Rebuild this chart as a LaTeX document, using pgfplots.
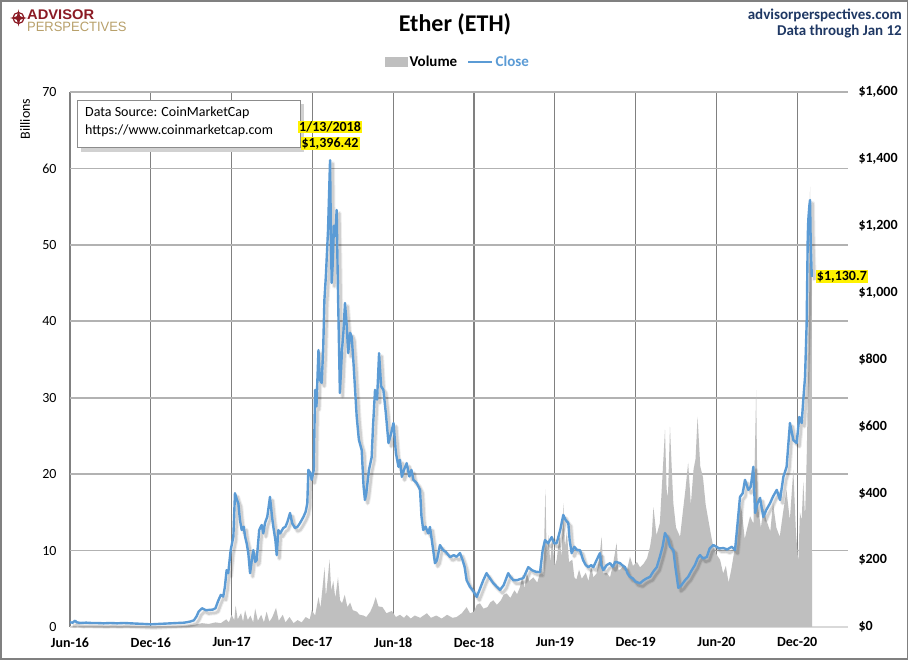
\documentclass[border=0pt]{standalone}
\usepackage{pgfplots}
\pgfplotsset{compat=1.18}
\usepackage{pgfplotstable}
\usepackage{fontspec}
\setmainfont{Carlito}
\newfontfamily\arialf{Liberation Sans}
\definecolor{volgray}{RGB}{191,191,191}
\definecolor{lineblue}{RGB}{91,155,213}
\definecolor{navy}{RGB}{31,56,100}
\definecolor{logored}{RGB}{139,26,36}
\definecolor{logotan}{RGB}{184,160,106}

\pgfplotstableread{
m v
0 0.05
8.0 0.05
8.8 0.2
9.3 0.3
9.8 0.5
10.3 0.4
10.8 0.6
11.2 0.5
11.6 1.0
11.8 0.6
12.0 1.6
12.2 0.9
12.3 2.8
12.45 1.0
12.7 1.8
12.85 0.7
13.0 2.2
13.2 0.9
13.4 1.5
13.6 0.6
13.75 2.4
13.95 0.8
14.2 1.6
14.4 0.6
14.6 2.0
14.8 0.7
15.0 1.2
15.3 2.5
15.5 0.8
15.8 1.6
16.0 0.6
16.3 1.3
16.6 0.5
16.9 0.9
17.2 0.6
17.5 1.3
17.8 1.0
17.95 2.2
18.2 1.5
18.45 3.9
18.6 2.5
18.8 6.0
18.9 7.8
19.0 4.0
19.15 6.5
19.27 8.8
19.4 4.8
19.55 6.0
19.7 3.8
19.9 6.5
20.05 3.5
20.2 3.1
20.4 4.2
20.6 2.6
20.8 3.2
21.0 2.2
21.3 2.0
21.5 1.6
21.8 1.5
22.0 1.3
22.3 2.0
22.5 2.8
22.7 3.9
22.9 2.7
23.2 2.6
23.5 1.8
23.9 2.1
24.2 1.3
24.5 1.6
24.8 1.2
25.0 1.6
25.3 1.1
25.6 1.5
26.0 1.2
26.5 1.8
26.8 1.2
27.2 1.5
27.6 1.1
28.0 1.6
28.4 1.2
28.7 1.3
29.1 1.8
29.45 2.6
29.7 1.8
30.0 2.0
30.2 2.9
30.44 3.1
30.7 2.4
31.0 2.6
31.2 3.2
31.43 3.5
31.7 2.9
32.0 3.5
32.2 4.2
32.42 4.4
32.7 3.8
33.0 4.8
33.2 4.3
33.41 5.2
33.6 6.8
33.75 5.0
33.91 7.1
34.1 6.0
34.4 6.5
34.7 5.8
35.0 7.8
35.15 6.5
35.3 18.0
35.4 9.0
35.55 12.0
35.65 8.5
35.8 11.4
36.0 8.0
36.14 8.8
36.35 12.0
36.5 9.0
36.63 16.2
36.75 10.5
36.9 12.5
37.05 8.5
37.3 8.8
37.45 6.5
37.6 6.2
37.8 7.5
38.0 6.3
38.3 7.1
38.5 6.0
38.7 8.0
38.86 6.5
39.1 7.0
39.3 9.0
39.48 11.8
39.6 7.0
39.85 7.1
40.1 6.5
40.3 8.0
40.59 11.0
40.7 7.5
40.84 7.5
41.1 8.0
41.3 7.0
41.58 9.2
41.8 8.0
42.1 8.5
42.33 7.8
42.6 8.3
42.85 9.0
43.07 10.5
43.2 12.0
43.32 15.7
43.55 12.0
43.8 13.6
44.0 20.0
44.18 25.8
44.3 18.0
44.4 17.0
44.55 26.2
44.7 20.0
44.8 16.2
45.0 13.0
45.3 11.8
45.5 15.0
45.7 18.0
45.9 21.5
46.1 16.0
46.3 20.6
46.45 22.0
46.6 27.5
46.8 21.0
47.0 19.6
47.2 16.0
47.4 14.0
47.6 12.0
47.77 10.5
48.0 9.5
48.27 8.8
48.5 7.0
48.7 8.0
48.9 5.8
49.1 7.5
49.38 10.5
49.6 13.0
49.75 16.2
49.9 15.0
50.1 11.5
50.25 12.7
50.5 14.5
50.75 13.5
50.95 31.0
51.05 16.2
51.3 13.0
51.5 15.5
51.7 14.0
52.0 12.5
52.2 16.2
52.45 13.0
52.7 11.8
52.95 15.0
53.2 17.9
53.45 14.0
53.71 20.6
53.9 12.5
54.08 8.4
54.2 15.0
54.33 14.0
54.45 19.0
54.58 14.4
54.7 22.0
54.82 33.6
54.9 45.0
54.95 57.6
55.02 50.0
55.08 46.7
55.1 0
}\voltable

\pgfplotstableread{
m p
0 14
0.2 13
0.37 19
0.5 14
0.8 12
1.2 13
1.6 12
2.0 12
2.5 11
3.0 12
3.5 11
4.0 12
4.5 11
5.0 10
5.5 9
6.0 8
6.5 9
7.0 10
7.5 11
8.0 12
8.5 13
8.9 16
9.2 20
9.4 32
9.55 46
9.8 56
10.1 50
10.3 51
10.6 52
10.8 56
11.0 78
11.2 96
11.38 91
11.5 120
11.63 170
11.75 161
11.93 230
12.13 270
12.25 400
12.4 380
12.5 370
12.62 320
12.75 290
12.9 300
13.0 270
13.12 250
13.24 221
13.37 161
13.5 200
13.61 230
13.75 195
13.86 200
14.05 290
14.23 305
14.35 280
14.48 311
14.65 330
14.85 389
15.0 330
15.1 299
15.25 260
15.35 215
15.47 290
15.6 280
15.84 296
16.0 300
16.15 315
16.34 341
16.5 310
16.71 296
16.9 300
17.08 311
17.33 329
17.5 345
17.62 370
17.7 470
17.85 460
17.95 440
18.1 470
18.2 709
18.3 660
18.45 828
18.55 740
18.69 730
18.8 830
18.89 978
19.0 1050
19.16 1187
19.31 1396
19.38 1150
19.43 1029
19.5 1080
19.6 1200
19.7 1170
19.8 1247
19.9 1000
20.04 700
20.2 830
20.3 880
20.42 969
20.55 900
20.66 819
20.8 880
20.92 867
21.05 790
21.29 628
21.45 560
21.66 529
21.8 420
21.9 380
22.0 400
22.2 470
22.4 508
22.5 600
22.65 709
22.8 680
22.95 819
23.1 720
23.27 709
23.45 640
23.65 550
23.85 580
24.02 610
24.2 520
24.39 479
24.5 500
24.64 449
24.8 470
25.0 490
25.2 450
25.35 470
25.5 440
25.75 430
25.99 410
26.1 330
26.23 290
26.4 300
26.6 280
26.73 299
26.9 250
27.1 191
27.25 200
27.47 245
27.7 230
27.9 225
28.22 209
28.5 215
28.7 210
28.96 221
29.15 200
29.3 180
29.45 140
29.7 120
29.9 110
30.2 90
30.4 110
30.69 140
30.93 161
31.1 150
31.43 131
31.7 120
31.93 111
32.2 125
32.54 161
32.7 150
32.92 140
33.2 140
33.4 143
33.66 146
34.03 179
34.3 170
34.6 165
34.9 164
35.1 230
35.27 260
35.5 250
35.77 269
35.95 250
36.14 251
36.4 290
36.63 335
36.8 320
37.0 311
37.1 260
37.25 221
37.45 240
37.65 230
37.87 230
38.1 200
38.3 185
38.49 179
38.7 185
38.86 179
39.1 200
39.35 221
39.45 185
39.6 170
39.85 185
40.1 191
40.3 180
40.5 195
40.84 191
41.0 185
41.21 179
41.4 160
41.58 150
41.8 145
42.0 135
42.33 131
42.6 140
42.8 145
43.07 150
43.3 165
43.57 179
43.8 210
44.0 240
44.18 281
44.4 265
44.55 240
44.8 230
44.95 180
45.17 117
45.4 125
45.67 140
45.9 150
46.17 170
46.4 185
46.6 205
46.78 215
47.0 205
47.28 209
47.5 235
47.77 245
48.0 240
48.2 235
48.52 236
48.8 232
49.14 240
49.38 230
49.5 280
49.75 389
49.95 400
50.12 440
50.37 410
50.55 420
50.74 479
50.87 341
51.05 370
51.24 386
51.48 329
51.7 350
51.98 370
52.2 390
52.48 410
52.72 380
52.97 449
53.21 479
53.46 610
53.71 559
53.96 550
54.15 628
54.33 610
54.45 680
54.58 748
54.7 909
54.78 1166
54.82 1217
54.9 1260
54.95 1277
55.0 1148
55.08 1047
}\closetable

\begin{document}
\begin{tikzpicture}
\useasboundingbox (0pt,0pt) rectangle (910pt,661pt);
\fill[white] (0pt,0pt) rectangle (910pt,661pt);

\begin{axis}[
  at={(70pt,34pt)}, anchor=south west,
  scale only axis, width=778pt, height=535pt,
  xmin=0, xmax=57.77, ymin=0, ymax=70,
  axis x line*=bottom, axis y line*=left,
  x axis line style={draw=black!15, line width=1.5pt, -},
  y axis line style={draw=none},
  xtick={0,6,...,54},
  xticklabels={Jun-16,Dec-16,Jun-17,Dec-17,Jun-18,Dec-18,Jun-19,Dec-19,Jun-20,Dec-20},
  ytick={0,10,...,70},
  major tick length=0pt,
  xmajorgrids, ymajorgrids,
  x grid style={draw=black!50, line width=1.1pt},
  y grid style={draw=black!30, line width=1.8pt},
  /pgf/number format/assume math mode=true,
  xticklabel style={font=\fontsize{14}{16}\selectfont\bfseries, yshift=-7pt},
  yticklabel style={font=\fontsize{14}{16}\selectfont, xshift=-10pt},
]
\addplot[fill=volgray, draw=none] table[x=m, y=v] {\voltable} \closedcycle;
\end{axis}

% data source box (over the grid, under the labels)
\fill[black!18] (81pt,509pt) rectangle (304pt,557pt);
\filldraw[fill=white, draw=black!45, line width=0.8pt] (77pt,514pt) rectangle (300pt,561pt);
\node[anchor=west, font=\fontsize{14}{16}\selectfont, inner sep=0pt] at (85pt,548pt) {Data Source: CoinMarketCap};
\node[anchor=west, font=\fontsize{14}{16}\selectfont, inner sep=0pt] at (85pt,530pt) {https://www.coinmarketcap.com};

\begin{axis}[
  at={(70pt,34pt)}, anchor=south west,
  scale only axis, width=778pt, height=535pt,
  xmin=0, xmax=57.77, ymin=0, ymax=1600,
  axis y line*=right, axis x line=none,
  y axis line style={draw=none},
  ytick={0,200,...,1600},
  yticklabels={\$0,\$200,\$400,\$600,\$800,{\$1,000},{\$1,200},{\$1,400},{\$1,600}},
  major tick length=0pt,
  yticklabel style={font=\fontsize{14}{16}\selectfont\bfseries, xshift=7pt},
  clip=false,
  legend style={at={(0.4987,1.056)}, anchor=center, draw=none, fill=none,
    legend columns=-1, font=\fontsize{15}{17}\selectfont\bfseries,
    /tikz/every even column/.append style={column sep=8pt}},
]
\addlegendimage{legend image code/.code={\fill[volgray] (0pt,-4.5pt) rectangle (22pt,4.5pt);}}
\addlegendentry{Volume}
\addplot[forget plot, draw=black, opacity=0.07, line width=4.5pt, line join=round]
  table[x expr=\thisrow{m}+0.2, y expr=\thisrow{p}-10] {\closetable};
\addplot[forget plot, draw=black, opacity=0.12, line width=2.5pt, line join=round]
  table[x expr=\thisrow{m}+0.2, y expr=\thisrow{p}-10] {\closetable};
\addplot[lineblue, line width=2.4pt, line join=round,
  legend image code/.code={\draw[lineblue, line width=2.4pt] (0pt,0pt) -- (24pt,0pt);}]
  table[x=m, y=p] {\closetable};
\addlegendentry{\textcolor{lineblue}{Close}}
\node[anchor=south, fill=yellow, inner sep=1pt, font=\fontsize{14}{16}\selectfont\bfseries, yshift=10pt] (pk) at (axis cs:19.31,1396) {\$1,396.42};
\node[anchor=south, fill=yellow, inner sep=1pt, font=\fontsize{14}{16}\selectfont\bfseries, yshift=3pt] at (pk.north) {1/13/2018};
\node[anchor=west, fill=yellow, inner sep=1pt, font=\fontsize{14}{16}\selectfont\bfseries, xshift=4pt] at (axis cs:55.08,1047) {\$1,130.7};
\end{axis}

% Billions label
\node[rotate=90, font=\fontsize{14}{16}\selectfont] at (25pt,542pt) {Billions};

% title and header
\node[font=\fontsize{24}{28}\selectfont\bfseries] at (455pt,637pt) {Ether (ETH)};
\node[anchor=east, font=\fontsize{15}{17}\selectfont\bfseries, text=navy, inner sep=0pt] at (902pt,646pt) {advisorperspectives.com};
\node[anchor=east, font=\fontsize{15}{17}\selectfont\bfseries, text=navy, inner sep=0pt] at (902pt,629pt) {Data through Jan 12};

% logo
\begin{scope}[shift={(18.5pt,643pt)}]
\draw[logored, line width=1.2pt] (0,0) circle (5.5pt);
\fill[logored] (0pt,8.5pt) -- (1.6pt,1.6pt) -- (8.5pt,0pt) -- (1.6pt,-1.6pt) -- (0pt,-8.5pt) -- (-1.6pt,-1.6pt) -- (-8.5pt,0pt) -- (-1.6pt,1.6pt) -- cycle;
\fill[logored] (0,0) circle (2.6pt);
\end{scope}
\node[anchor=west, inner sep=0pt, text=logored, font=\arialf\bfseries\fontsize{14}{16}\selectfont] at (27pt,646pt) {\scalebox{1.05}[1]{ADVISOR}};
\node[anchor=west, inner sep=0pt, text=logotan, font=\arialf\fontsize{13.5}{16}\selectfont] at (27pt,634pt) {\scalebox{0.96}[1]{PERSPECTIVES}};

% border
\draw[black!50, line width=1.5pt] (1pt,2pt) rectangle (907.5pt,660pt);
\end{tikzpicture}
\end{document}
